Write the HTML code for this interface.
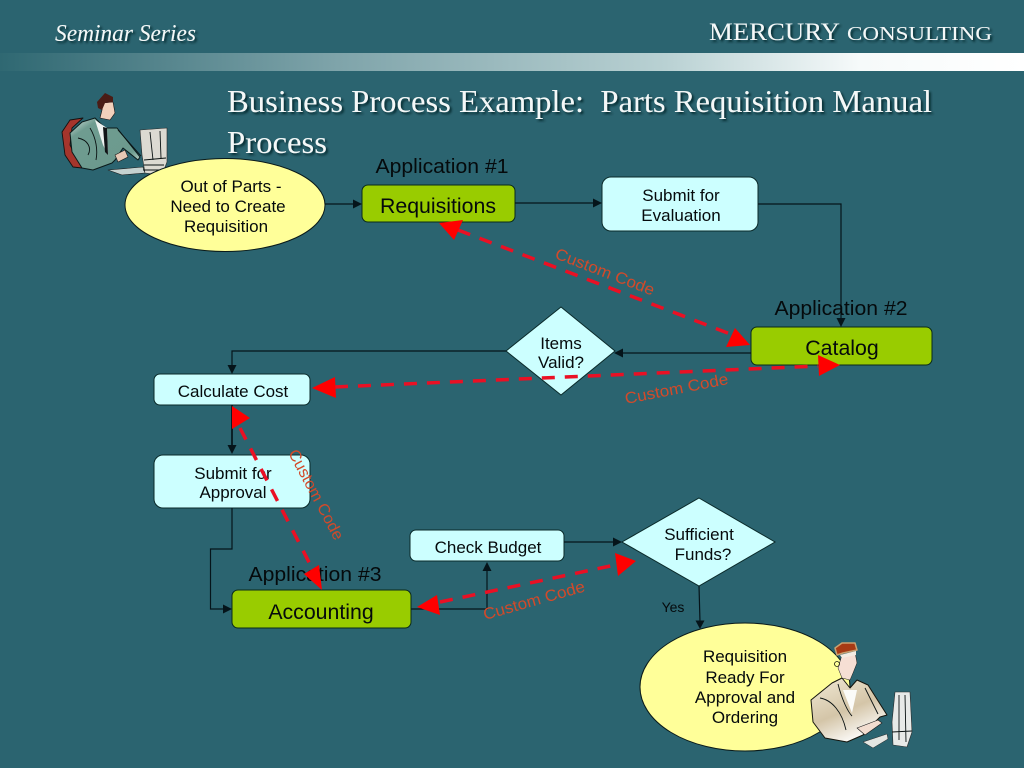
<!DOCTYPE html>
<html><head><meta charset="utf-8"><style>
html,body{margin:0;padding:0;background:#2b6470;width:1024px;height:768px;overflow:hidden}
svg{display:block}
text{font-family:"Liberation Sans",sans-serif;fill:#050a0c}
.s{font-size:17px}
.b{font-size:21.300px}
.a{font-size:20px}
.cc{font-size:16px;fill:#d24a2a}
.t{font-family:"Liberation Serif",serif;fill:#f4f8f8}
.k{fill:none;stroke:#05141a;stroke-width:1.200}
.r{stroke:#ea1024;stroke-width:3.500;stroke-dasharray:13 10;fill:none}
.c{fill:none;stroke:#0a1212;stroke-width:.9}
</style></head><body>
<svg width="1024" height="768" viewBox="0 0 1024 768" xmlns="http://www.w3.org/2000/svg">
<defs>
<linearGradient id="g" x1="0" x2="1" y1="0" y2="0">
<stop offset="0" stop-color="#2f6872"/><stop offset=".33" stop-color="#7fa4aa"/><stop offset=".65" stop-color="#b9d1d3"/><stop offset=".84" stop-color="#f6fafa"/><stop offset="1" stop-color="#ffffff"/>
</linearGradient>
<linearGradient id="m" x1="0" x2=".9" y1="0" y2="1"><stop offset="0" stop-color="#dfe9e4"/><stop offset=".22" stop-color="#6f9c90"/><stop offset=".8" stop-color="#6c9a8e"/><stop offset="1" stop-color="#cfe0d8"/></linearGradient>
<linearGradient id="w" x1=".1" x2=".6" y1="0" y2="1"><stop offset="0" stop-color="#efe7d2"/><stop offset=".55" stop-color="#d4c5a8"/><stop offset="1" stop-color="#ffffff"/></linearGradient>
<filter id="sh" x="-5%" y="-20%" width="110%" height="140%"><feDropShadow dx="2" dy="2" stdDeviation="1" flood-color="#06222a" flood-opacity=".9"/></filter>
</defs>
<rect width="1024" height="768" fill="#2b6470"/>
<rect x="0" y="53" width="1024" height="18" fill="url(#g)"/>

<g filter="url(#sh)">
<text class="t" x="55" y="41" font-size="24" font-style="italic" textLength="141" lengthAdjust="spacingAndGlyphs">Seminar Series</text>
<text class="t" x="709" y="40" font-size="25" textLength="131" lengthAdjust="spacingAndGlyphs">MERCURY</text>
<text class="t" x="847" y="40" font-size="20" textLength="145" lengthAdjust="spacingAndGlyphs">CONSULTING</text>
<text class="t" x="227" y="112" font-size="32" xml:space="preserve" textLength="705" lengthAdjust="spacingAndGlyphs">Business Process Example:  Parts Requisition Manual</text>
<text class="t" x="227" y="153" font-size="32" textLength="100" lengthAdjust="spacingAndGlyphs">Process</text>
</g>

<!-- man clipart -->
<g stroke-linejoin="round">
<path d="M83 118L70 120L62 132L65 155L73 167L82 168L70 145L72 128Z" fill="#a5352c" stroke="#14100f" stroke-width=".9"/>
<path d="M70 133L82 122L95 118L105 128L117 128L140 157L138 160L123 148L115 160L112 163L93 170L82 168L72 152Z" fill="url(#m)" stroke="#0a1a1a"/>
<path d="M95 120L107 128L108 155L103 145Z" fill="#eef2f0"/>
<path d="M103 127L107 128L108 155L105 152Z" fill="#101416"/>
<path d="M103 103L113 102L115 113L110 120L100 118L102 110Z" fill="#f2d0bc" stroke="#1a1010" stroke-width=".6"/>
<path d="M97 102L105 93L113 97L113 102L105 103L102 110L98 108Z" fill="#4a1c16"/>
<path d="M115 155L125 150L128 157L118 162Z" fill="#e6c8b4" stroke="#1a1a1a" stroke-width=".6"/>
<path class="c" d="M78 138C88 140 92 148 88 155M90 128C96 138 98 150 96 160M118 130L141 156"/>
<path d="M108 170L143 167L145 173L122 175Z" fill="#c6d2d0" stroke="#1a1a1a" stroke-width=".6"/>
<path d="M140 130L167 128L167 162L162 175L145 173L142 155Z" fill="#dcdad2" stroke="#2a2a2a" stroke-width=".6"/>
<path class="c" d="M144 160L166 158M144 165L164 165M143 170L160 170M150 132L153 160M160 131L161 158" stroke-width=".7"/>
</g>

<!-- nodes -->
<ellipse cx="225" cy="205" rx="100" ry="46.500" fill="#ffff99" stroke="#0a1a1a"/>
<rect x="362" y="185" width="153" height="37" rx="6" fill="#99cc00" stroke="#0a2a1a"/>
<rect x="602" y="177" width="156" height="54" rx="9" fill="#ccffff" stroke="#0a2a2a"/>
<rect x="751" y="327" width="181" height="38" rx="6" fill="#99cc00" stroke="#0a2a1a"/>
<polygon points="561,307 615,351 561,395 506,351" fill="#ccffff" stroke="#0a2a2a"/>
<rect x="154" y="374" width="156" height="31" rx="6" fill="#ccffff" stroke="#0a2a2a"/>
<rect x="154" y="455" width="156" height="53" rx="9" fill="#ccffff" stroke="#0a2a2a"/>
<rect x="232" y="590" width="179" height="38" rx="6" fill="#99cc00" stroke="#0a2a1a"/>
<rect x="410" y="530" width="154" height="31" rx="6" fill="#ccffff" stroke="#0a2a2a"/>
<polygon points="699,498 775,542 699,586 622,542" fill="#ccffff" stroke="#0a2a2a"/>
<ellipse cx="745" cy="687" rx="105" ry="64" fill="#ffff99" stroke="#0a1a1a"/>

<!-- connectors -->
<path class="k" d="M325 204H354"/><path d="M362 204l-9-4.500v9z" fill="#05141a"/>
<path class="k" d="M515 203H594"/><path d="M602 203l-9-4.500v9z" fill="#05141a"/>
<path class="k" d="M758 204H841V319"/><path d="M841 327l-4.500-9h9z" fill="#05141a"/>
<path class="k" d="M751 353H622" stroke-width="1.600"/><path d="M614 353l9-4.500v9z" fill="#05141a"/>
<path class="k" d="M506 351H232V366"/><path d="M232 374l-4.500-9h9z" fill="#05141a"/>
<path class="k" d="M232 405V447" style="stroke-width:1.700"/><path d="M232 454l-4.500-9h9z" fill="#05141a"/>
<path class="k" d="M232 508V549H210.500V609H224"/><path d="M232 609l-9-4.500v9z" fill="#05141a"/>
<path class="k" d="M411 609H487V570"/><path d="M487 562l-4.500 9h9z" fill="#05141a"/>
<path class="k" d="M564 542H614"/><path d="M622 542l-9-4.500v9z" fill="#05141a"/>
<path class="k" d="M699 586L700 622"/><path d="M700 629l-4.500-8.500h9z" fill="#05141a"/>

<!-- woman clipart -->
<g stroke-linejoin="round">
<path d="M811 700L832 683L842 678L850 688L857 680L868 685L887 715L880 717L877 720L863 735L847 742L825 738L813 722Z" fill="url(#w)" stroke="#14140c"/>
<path d="M843 690L857 690L852 713Z" fill="#fbfbf8"/>
<path d="M842 655L855 652L857 663L853 673L850 680L842 678L838 668Z" fill="#f6dfd4" stroke="#1a1a1a" stroke-width=".5"/>
<path d="M835 648L842 643L855 643L857 650L843 653L837 655Z" fill="#a83a14" stroke="#c9a070" stroke-width="1.500"/>
<path d="M840 655L856 651L856 655L842 658Z" fill="#f4ece2"/>
<circle cx="837" cy="664" r="2.500" fill="none" stroke="#1a1a10" stroke-width=".8"/>
<path class="c" d="M820 698C832 700 842 712 846 730M838 684C842 700 848 712 852 716M865 688L878 714"/>
<path d="M857 728L878 720L882 723L865 735Z" fill="#f2ddd0" stroke="#1a1a1a" stroke-width=".6"/>
<path d="M895 692L910 692L912 732L907 747L893 745L892 722Z" fill="#e8eae8" stroke="#2a2a2a" stroke-width=".6"/>
<path class="c" d="M899 695L899 740M905 695L906 742M892 732L912 731" stroke-width=".7"/>
<path d="M863 742L887 734L888 739L873 748Z" fill="#e4e6e2" stroke="#2a2a2a" stroke-width=".5"/>
</g>

<!-- node labels -->
<g text-anchor="middle">
<text class="s" x="231" y="192">Out of Parts -</text>
<text class="s" x="228" y="212">Need to Create</text>
<text class="s" x="226" y="232">Requisition</text>
<text class="a" x="442" y="173" textLength="133" lengthAdjust="spacingAndGlyphs">Application #1</text>
<text class="b" x="438" y="213">Requisitions</text>
<text class="s" x="681" y="201">Submit for</text>
<text class="s" x="681" y="221">Evaluation</text>
<text class="a" x="841" y="315" textLength="133" lengthAdjust="spacingAndGlyphs">Application #2</text>
<text class="b" x="842" y="355">Catalog</text>
<text class="s" x="561" y="349">Items</text>
<text class="s" x="561" y="368">Valid?</text>
<text class="s" x="233" y="397">Calculate Cost</text>
<text class="s" x="233" y="479">Submit for</text>
<text class="s" x="233" y="498">Approval</text>
<text class="a" x="315" y="581" textLength="133" lengthAdjust="spacingAndGlyphs">Application #3</text>
<text class="b" x="321" y="619">Accounting</text>
<text class="s" x="488" y="553">Check Budget</text>
<text class="s" x="699" y="540">Sufficient</text>
<text class="s" x="703" y="560">Funds?</text>
<text x="673" y="612" font-size="14" text-anchor="middle">Yes</text>
<text class="s" x="745" y="662">Requisition</text>
<text class="s" x="745" y="683">Ready For</text>
<text class="s" x="745" y="703">Approval and</text>
<text class="s" x="745" y="723">Ordering</text>
</g>

<!-- red custom code links -->
<path class="r" d="M458 230L733 335"/>
<polygon points="439,223 463,220 454,240" fill="#ff0000"/>
<polygon points="750,345 726,347 735,328" fill="#ff0000"/>
<path class="r" d="M335 387L818 366"/>
<polygon points="312,388 335,377 336,398" fill="#ff0000"/>
<polygon points="840,365 818,355 819,376" fill="#ff0000"/>
<path class="r" d="M240 428L313 570"/>
<polygon points="232,406 250,418 232,429" fill="#ff0000"/>
<polygon points="322,590 304,574 319,565" fill="#ff0000"/>
<path class="r" d="M440 602L615 565"/>
<polygon points="417,607 437,595 440,615" fill="#ff0000"/>
<polygon points="636,561 615,553 618,576" fill="#ff0000"/>

<text class="cc" transform="translate(554 258) rotate(21)" textLength="105" lengthAdjust="spacingAndGlyphs">Custom Code</text>
<text class="cc" transform="translate(626 404) rotate(-11)" textLength="105" lengthAdjust="spacingAndGlyphs">Custom Code</text>
<text class="cc" transform="translate(288 453) rotate(62)" textLength="100" lengthAdjust="spacingAndGlyphs">Custom Code</text>
<text class="cc" transform="translate(485 620) rotate(-16)" textLength="105" lengthAdjust="spacingAndGlyphs">Custom Code</text>
</svg>
</body></html>
